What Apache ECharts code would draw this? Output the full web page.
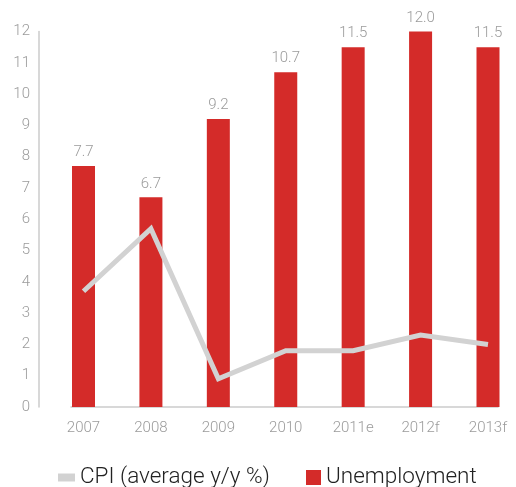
<!DOCTYPE html>
<html>
<head>
<meta charset="utf-8">
<script src="https://cdn.jsdelivr.net/npm/echarts@6/dist/echarts.min.js"></script>
<style>
  html, body { margin: 0; padding: 0; background: #fff; }
  #chart { width: 516px; height: 487px; }
</style>
</head>
<body>
<div id="chart"></div>
<script>
// Years on the horizontal axis
const years = ['2007', '2008', '2009', '2010', '2011e', '2012f', '2013f'];
// Unemployment rate, %
const unemployment = [7.7, 6.7, 9.2, 10.7, 11.5, 12.0, 11.5];
// Consumer price inflation, average y/y %
const cpi = [3.7, 5.7, 0.9, 1.8, 1.8, 2.3, 2.0];
// Vertical axis range
const yMin = 0, yMax = 12, yStep = 1;

const FONT = 'Roboto, "Liberation Sans", sans-serif';
const LABEL_GREY = '#9b9b9b';
const AXIS_GREY = '#cbcbcb';
const RED = '#d42b29';
const LINE_GREY = '#d2d2d2';

const chart = echarts.init(document.getElementById('chart'), null, { renderer: 'canvas' });

chart.setOption({
  animation: false,
  backgroundColor: '#fff',
  textStyle: { fontFamily: FONT, fontWeight: 300 },
  grid: [
    // plotting area: category ticks sit on the bar centres
    { left: 83.5, right: 28, top: 31.5, bottom: 80 },
    // baseline that runs a little past the first and last bar
    { left: 71, right: 18, top: 31.5, bottom: 80 }
  ],
  legend: [
    {
      data: ['CPI (average y/y %)'],
      left: 53, top: 461,
      icon: 'rect', itemWidth: 17, itemHeight: 8,
      textStyle: { fontFamily: FONT, fontWeight: 300, fontSize: 22.5, color: '#222' }
    },
    {
      data: ['Unemployment'],
      left: 301, top: 461,
      icon: 'rect', itemWidth: 15, itemHeight: 15,
      textStyle: { fontFamily: FONT, fontWeight: 300, fontSize: 22.5, color: '#222' }
    }
  ],
  xAxis: [
    {
      type: 'category', gridIndex: 0, data: years, boundaryGap: false,
      axisLine: { show: false }, axisTick: { show: false }, splitLine: { show: false },
      axisLabel: { color: LABEL_GREY, fontSize: 15, margin: 14, fontFamily: FONT, fontWeight: 300, interval: 0 }
    },
    {
      type: 'value', gridIndex: 1, min: 0, max: 1,
      axisLine: { show: true, lineStyle: { color: AXIS_GREY, width: 1.5 } },
      axisTick: { show: false }, axisLabel: { show: false }, splitLine: { show: false }
    }
  ],
  yAxis: [
    {
      type: 'value', gridIndex: 0, min: yMin, max: yMax, interval: yStep,
      offset: 44.5,
      axisLine: { show: true, lineStyle: { color: AXIS_GREY, width: 1.5 } },
      axisTick: { show: false }, splitLine: { show: false },
      axisLabel: { color: LABEL_GREY, fontSize: 15, margin: 9, fontFamily: FONT, fontWeight: 300 }
    },
    {
      type: 'value', gridIndex: 1, min: 0, max: 1, show: false
    }
  ],
  series: [
    {
      name: 'Unemployment', type: 'bar', xAxisIndex: 0, yAxisIndex: 0,
      data: unemployment, barWidth: 23,
      itemStyle: { color: RED },
      label: {
        show: true, position: 'top', distance: 6,
        color: LABEL_GREY, fontSize: 15, fontFamily: FONT, fontWeight: 300,
        formatter: p => p.value.toFixed(1)
      },
      z: 2
    },
    {
      name: 'CPI (average y/y %)', type: 'line', xAxisIndex: 0, yAxisIndex: 0,
      data: cpi, showSymbol: false, symbol: 'none',
      lineStyle: { color: LINE_GREY, width: 5, join: 'miter' },
      itemStyle: { color: LINE_GREY },
      z: 3
    }
  ]
});
</script>
</body>
</html>
